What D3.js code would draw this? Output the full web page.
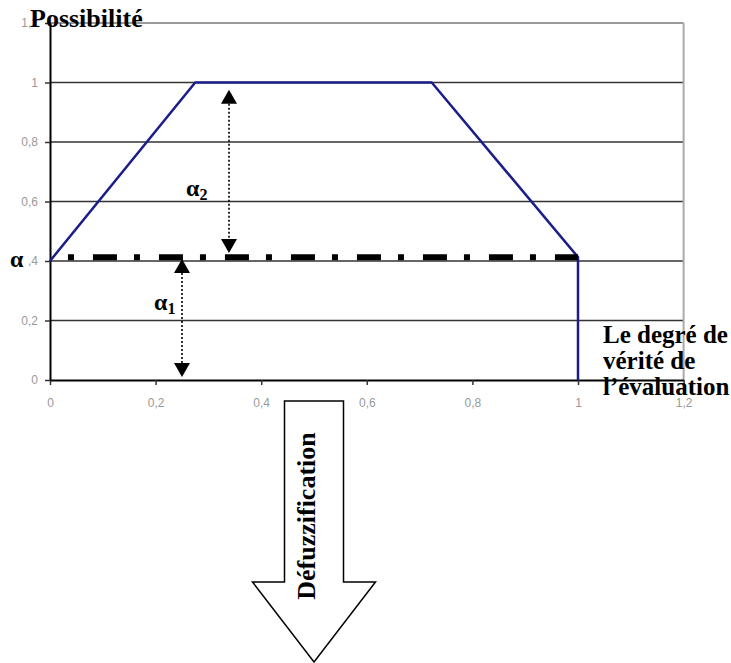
<!DOCTYPE html>
<html><head><meta charset="utf-8">
<script src="https://cdn.jsdelivr.net/npm/d3@7"></script>
<style>body{margin:0;background:#fff}svg{display:block}</style>
</head><body>
<svg id="c" width="731" height="663"></svg>
<script>
// ---- data ----
const xTicks = [0, 0.2, 0.4, 0.6, 0.8, 1, 1.2];
const xTickLabels = ["0", "0,2", "0,4", "0,6", "0,8", "1", "1,2"];
const yTicks = [0, 0.2, 0.4, 0.6, 0.8, 1, 1.2];
const yTickLabels = ["0", "0,2", "0,4", "0,6", "0,8", "1", "1,2"];
const possX = [0, 0.275, 0.723, 1, 1];
const possY = [0.4, 1, 1, 0.413, 0];
const alphaLevel = 0.413;
const alphaLineX = [0.034, 1];
const arrowA2 = {x: 0.339, y0: 0.976, y1: 0.427, label: "2"};
const arrowA1 = {x: 0.25, y0: 0.407, y1: 0.01, label: "1"};
const yTitle = "Possibilité";
const xTitle = ["Le degré de", "vérité de", "l\u2019évaluation"];
const bigArrowText = "Défuzzification";

// ---- scales ----
const svg = d3.select("#c");
const x = d3.scaleLinear().domain([0, 1.2]).range([50, 683.6]);
const y = d3.scaleLinear().domain([0, 1.2]).range([380, 23]);
const serif = "'Liberation Serif','Times New Roman',serif";

// gridlines
svg.append("g").selectAll("line").data(yTicks.filter(d => d > 0 && d < 1.2)).join("line")
  .attr("x1", x(0)).attr("x2", x(1.2)).attr("y1", d => y(d)).attr("y2", d => y(d))
  .attr("stroke", "#333").attr("stroke-width", 1.6);
// top & right border
svg.append("line").attr("x1", x(0)).attr("x2", x(1.2)).attr("y1", y(1.2)).attr("y2", y(1.2))
  .attr("stroke", "#9a9a9a").attr("stroke-width", 2);
svg.append("line").attr("x1", x(1.2)).attr("x2", x(1.2)).attr("y1", y(1.2)).attr("y2", y(0))
  .attr("stroke", "#aaa").attr("stroke-width", 2);

// axes
const xAxis = d3.axisBottom(x).tickValues(xTicks).tickFormat((d, i) => xTickLabels[i]).tickSize(5).tickSizeOuter(0);
const gx = svg.append("g").attr("transform", `translate(0,${y(0)})`).call(xAxis);
gx.select(".domain").attr("stroke", "#000").attr("stroke-width", 2);
gx.selectAll(".tick line").attr("stroke", "#333").attr("stroke-width", 1.5);
gx.selectAll("text").attr("fill", "#999").attr("font-family", "'Liberation Sans',Arial,sans-serif")
  .attr("font-size", 12).attr("dy", "1.55em");

const yAxis = d3.axisLeft(y).tickValues(yTicks).tickFormat((d, i) => yTickLabels[i]).tickSize(5).tickSizeOuter(0);
const gy = svg.append("g").attr("transform", `translate(${x(0)},0)`).call(yAxis);
gy.select(".domain").attr("stroke", "#000").attr("stroke-width", 2);
gy.selectAll(".tick line").attr("stroke", "#333").attr("stroke-width", 1.5);
gy.selectAll("text").attr("fill", "#999").attr("font-family", "'Liberation Sans',Arial,sans-serif")
  .attr("font-size", 12).attr("x", -12);

// possibility curve
const pts = possX.map((d, i) => [d, possY[i]]);
svg.append("path").datum(pts)
  .attr("d", d3.line().x(d => x(d[0])).y(d => y(d[1])))
  .attr("fill", "none").attr("stroke", "#1c1c8a").attr("stroke-width", 2.5).attr("stroke-linejoin", "round");

// alpha dash-dot line
svg.append("line").attr("x1", x(alphaLineX[0])).attr("x2", x(alphaLineX[1]))
  .attr("y1", y(alphaLevel)).attr("y2", y(alphaLevel))
  .attr("stroke", "#000").attr("stroke-width", 6).attr("stroke-dasharray", "6 19 24 17");

// double arrows
function dblArrow(a, lx, ly) {
  const g = svg.append("g");
  const xc = x(a.x), t = y(a.y0), b = y(a.y1), h = 14, w = 8;
  g.append("line").attr("x1", xc).attr("x2", xc).attr("y1", t + h).attr("y2", b - h)
    .attr("stroke", "#000").attr("stroke-width", 1.6).attr("stroke-dasharray", "2 2");
  g.append("path").attr("d", `M${xc},${t}L${xc - w},${t + h}L${xc + w},${t + h}Z`).attr("fill", "#000");
  g.append("path").attr("d", `M${xc},${b}L${xc - w},${b - h}L${xc + w},${b - h}Z`).attr("fill", "#000");
  const tx = g.append("text").attr("x", lx).attr("y", ly).attr("font-family", serif)
    .attr("font-weight", "bold").attr("font-size", 24).attr("fill", "#000");
  tx.append("tspan").text("α");
  tx.append("tspan").attr("font-size", 16).attr("dy", 4).text(a.label);
}
dblArrow(arrowA2, x(arrowA2.x) - 43, 196);
dblArrow(arrowA1, x(arrowA1.x) - 28, 310);

// left alpha label covering tick label
svg.append("rect").attr("x", 6).attr("y", y(0.4) - 11).attr("width", 22).attr("height", 20).attr("fill", "#fff");
svg.append("text").attr("x", 10).attr("y", y(0.4) + 6).attr("font-family", serif)
  .attr("font-weight", "bold").attr("font-size", 24).text("α");

// titles
svg.append("text").attr("x", 30).attr("y", 27).attr("font-family", serif)
  .attr("font-weight", "bold").attr("font-size", 26).text(yTitle);
svg.append("g").selectAll("text").data(xTitle).join("text")
  .attr("x", 603).attr("y", (d, i) => 343 + i * 26).attr("font-family", serif)
  .attr("font-weight", "bold").attr("font-size", 25).text(d => d);

// big arrow
const acx = x(0.5), aTop = 401, shaftBot = 582, aTip = 662, sw = 29.5, hw = 61.5;
svg.append("path")
  .attr("d", `M${acx - sw},${aTop}L${acx + sw},${aTop}L${acx + sw},${shaftBot}L${acx + hw},${shaftBot}L${acx},${aTip}L${acx - hw},${shaftBot}L${acx - sw},${shaftBot}Z`)
  .attr("fill", "#fff").attr("stroke", "#000").attr("stroke-width", 1.5);
svg.append("text").attr("transform", `translate(${acx + 1},516) rotate(-90)`)
  .attr("text-anchor", "middle").attr("font-family", serif).attr("font-weight", "bold")
  .attr("font-size", 26).text(bigArrowText);
</script>
</body></html>
